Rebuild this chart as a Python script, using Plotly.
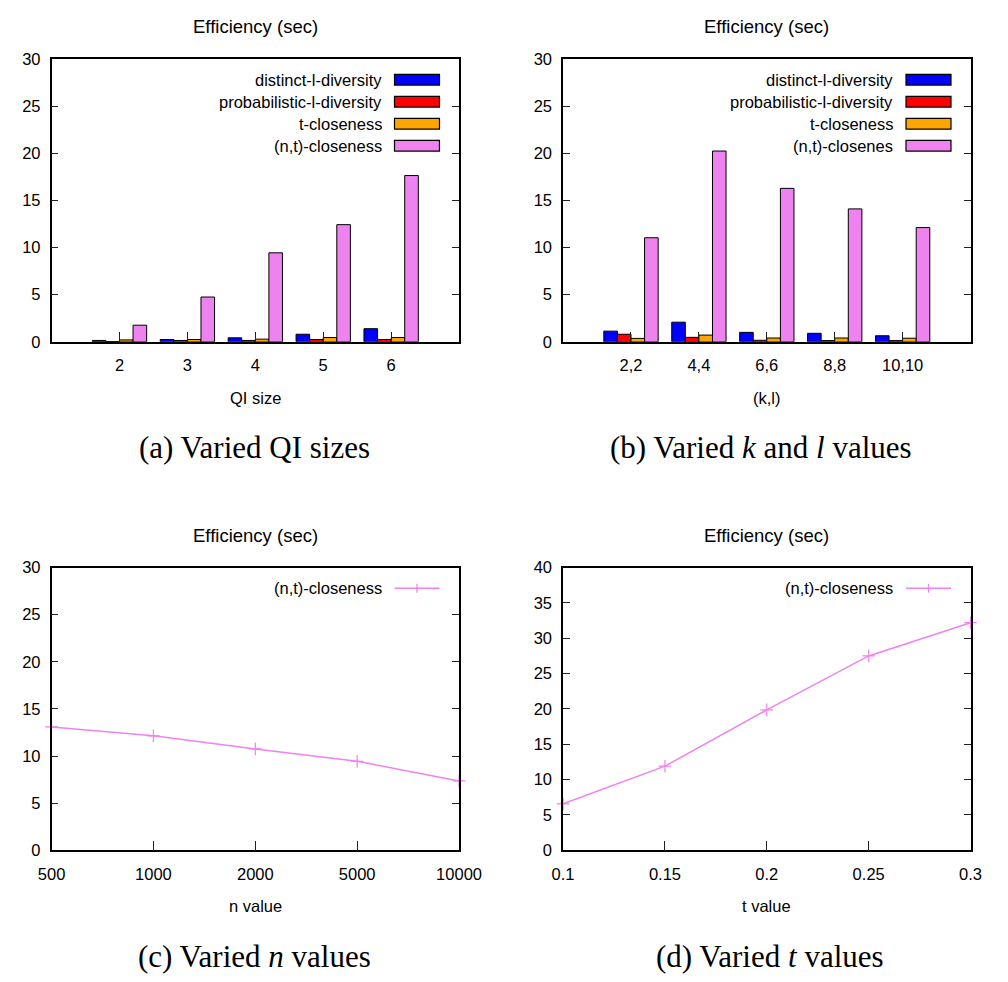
import plotly.graph_objects as go

# ---- data -------------------------------------------------------------
qi_sizes = [2, 3, 4, 5, 6]
qi_labels = ["2", "3", "4", "5", "6"]
qi_distinct = [0.14, 0.24, 0.42, 0.80, 1.39]
qi_prob = [0.03, 0.14, 0.14, 0.24, 0.24]
qi_tclose = [0.20, 0.24, 0.28, 0.45, 0.45]
qi_ntclose = [1.76, 4.75, 9.44, 12.43, 17.64]

kl_pos = [2, 3, 4, 5, 6]
kl_labels = ["2,2", "4,4", "6,6", "8,8", "10,10"]
kl_distinct = [1.13, 2.08, 1.00, 0.90, 0.64]
kl_prob = [0.80, 0.47, 0.16, 0.13, 0.13]
kl_tclose = [0.36, 0.71, 0.40, 0.40, 0.38]
kl_ntclose = [11.04, 20.24, 16.28, 14.10, 12.12]

n_values = ["500", "1000", "2000", "5000", "10000"]
n_ntclose = [13.09, 12.15, 10.76, 9.44, 7.36]

t_values = [0.10, 0.15, 0.20, 0.25, 0.30]
t_labels = ["0.1", "0.15", "0.2", "0.25", "0.3"]
t_ntclose = [6.57, 11.9, 19.86, 27.5, 32.2]

bar_names_a = ["distinct-l-diversity", "probabilistic-l-diversity",
               "t-closeness", "(n,t)-closeness"]
bar_names_b = ["distinct-l-diversity", "probabilistic-l-diversity",
               "t-closeness", "(n,t)-closenes"]
bar_colors = ["#0000FF", "#FF0000", "#FFA500", "#EE82EE"]
line_color = "#EE82EE"

SANS = "Liberation Sans, Arial, sans-serif"
SERIF = "Liberation Serif, Times New Roman, serif"
W, H = 1008, 982

# plot frames in pixels (left, right, top, bottom)
frames = {
    1: (39, 462, 51, 339),
    2: (570, 993, 51, 339),
    3: (39, 462, 569, 857),
    4: (570, 993, 569, 857),
}


def dom(f):
    l, r, t, b = f
    return [l / W, r / W], [1 - b / H, 1 - t / H]


fig = go.Figure()

for series, name, color in zip([qi_distinct, qi_prob, qi_tclose, qi_ntclose],
                               bar_names_a, bar_colors):
    fig.add_trace(go.Bar(x=qi_sizes, y=series, name=name, marker_color=color,
                         marker_line_color="black", marker_line_width=1,
                         xaxis="x", yaxis="y", showlegend=False))

for series, name, color in zip([kl_distinct, kl_prob, kl_tclose, kl_ntclose],
                               bar_names_b, bar_colors):
    fig.add_trace(go.Bar(x=kl_pos, y=series, name=name, marker_color=color,
                         marker_line_color="black", marker_line_width=1,
                         xaxis="x2", yaxis="y2", showlegend=False))

line_marker = dict(symbol="cross-thin", size=9,
                   line=dict(color=line_color, width=1.2))

fig.add_trace(go.Scatter(x=n_values, y=n_ntclose, mode="lines+markers",
                         name="(n,t)-closeness", cliponaxis=False,
                         line=dict(color=line_color, width=1.5),
                         marker=line_marker,
                         xaxis="x3", yaxis="y3", showlegend=False))

fig.add_trace(go.Scatter(x=t_values, y=t_ntclose, mode="lines+markers",
                         name="(n,t)-closeness", cliponaxis=False,
                         line=dict(color=line_color, width=1.5),
                         marker=line_marker,
                         xaxis="x4", yaxis="y4", showlegend=False))

axis_common = dict(showline=True, linecolor="black", linewidth=1.5,
                   showgrid=False, zeroline=False, ticks="inside",
                   tickcolor="#222", tickwidth=1.2,
                   tickfont=dict(family=SANS, size=16.5, color="black"))

layout = dict(width=W, height=H, margin=dict(l=0, r=0, t=0, b=0),
              paper_bgcolor="white", plot_bgcolor="white",
              barmode="group", bargap=0.2, bargroupgap=0.0,
              showlegend=False)

xcfg = {
    1: dict(range=[1, 7], tickvals=qi_sizes, ticktext=qi_labels),
    2: dict(range=[1, 7], tickvals=kl_pos, ticktext=kl_labels),
    3: dict(type="category", range=[0, 4]),
    4: dict(range=[0.1, 0.3], tickvals=t_values, ticktext=t_labels),
}
ycfg = {
    1: dict(range=[0, 30], dtick=5),
    2: dict(range=[0, 30], dtick=5),
    3: dict(range=[0, 30], dtick=5),
    4: dict(range=[0, 40], dtick=5),
}

for i in range(1, 5):
    xd, yd = dom(frames[i])
    sx = "" if i == 1 else str(i)
    layout["xaxis" + sx] = dict(axis_common, domain=xd, anchor="y" + sx,
                                mirror=True, ticklen=10,
                                ticklabelstandoff=8, **xcfg[i])
    layout["yaxis" + sx] = dict(axis_common, domain=yd, anchor="x" + sx,
                                mirror="ticks", ticklen=7,
                                ticklabelstandoff=6, **ycfg[i])

fig.update_layout(**layout)

annotations = []
shapes = []

# chart titles, axis labels and sub-figure captions
titles = ["Efficiency (sec)"] * 4
xlabels = ["QI size", "(k,l)", "n value", "t value"]
captions = ["(a) Varied QI sizes",
            "(b) Varied <i>k</i> and <i>l</i> values",
            "(c) Varied <i>n</i> values",
            "(d) Varied <i>t</i> values"]
caption_x = {1: 250, 2: 775, 3: 250, 4: 785}
for i in range(1, 5):
    l, r, t, b = frames[i]
    cx = (l + r) / 2
    annotations.append(dict(text=titles[i - 1], x=cx / W, y=1 - (t - 33) / H,
                            xref="paper", yref="paper", showarrow=False,
                            xanchor="center", yanchor="middle",
                            font=dict(family=SANS, size=18.5, color="black")))
    annotations.append(dict(text=xlabels[i - 1], x=cx / W, y=1 - (b + 57) / H,
                            xref="paper", yref="paper", showarrow=False,
                            xanchor="center", yanchor="middle",
                            font=dict(family=SANS, size=16.5, color="black")))
    annotations.append(dict(text=captions[i - 1], x=caption_x[i] / W,
                            y=1 - (b + 108) / H,
                            xref="paper", yref="paper", showarrow=False,
                            xanchor="center", yanchor="middle",
                            font=dict(family=SERIF, size=31, color="black")))

# keys drawn gnuplot-style: right-aligned text followed by the sample
key_text_x = 0.8156
key_s0, key_s1 = 0.8416, 0.9520
row_top = 0.927
row_step = 0.0778
sw_half = 0.019


def add_bar_key(sx, names):
    for k, (name, color) in enumerate(zip(names, bar_colors)):
        yc = row_top - k * row_step
        annotations.append(dict(text=name, x=key_text_x, y=yc,
                                xref="x" + sx + " domain",
                                yref="y" + sx + " domain", showarrow=False,
                                xanchor="right", yanchor="middle",
                                font=dict(family=SANS, size=16.5, color="black")))
        shapes.append(dict(type="rect", xref="x" + sx + " domain",
                           yref="y" + sx + " domain",
                           x0=key_s0, x1=key_s1, y0=yc - sw_half, y1=yc + sw_half,
                           fillcolor=color, line=dict(color="black", width=1.2)))


def add_line_key(sx, name):
    yc = row_top
    annotations.append(dict(text=name, x=key_text_x, y=yc,
                            xref="x" + sx + " domain",
                            yref="y" + sx + " domain", showarrow=False,
                            xanchor="right", yanchor="middle",
                            font=dict(family=SANS, size=16.5, color="black")))
    shapes.append(dict(type="line", xref="x" + sx + " domain",
                       yref="y" + sx + " domain",
                       x0=key_s0, x1=key_s1, y0=yc, y1=yc,
                       line=dict(color=line_color, width=1.5)))
    xm = (key_s0 + key_s1) / 2
    shapes.append(dict(type="line", xref="x" + sx + " domain",
                       yref="y" + sx + " domain",
                       x0=xm, x1=xm, y0=yc - 0.016, y1=yc + 0.016,
                       line=dict(color=line_color, width=1.2)))


add_bar_key("", bar_names_a)
add_bar_key("2", bar_names_b)
add_line_key("3", "(n,t)-closeness")
add_line_key("4", "(n,t)-closeness")

fig.update_layout(annotations=annotations, shapes=shapes)

fig.write_html("out.html")
